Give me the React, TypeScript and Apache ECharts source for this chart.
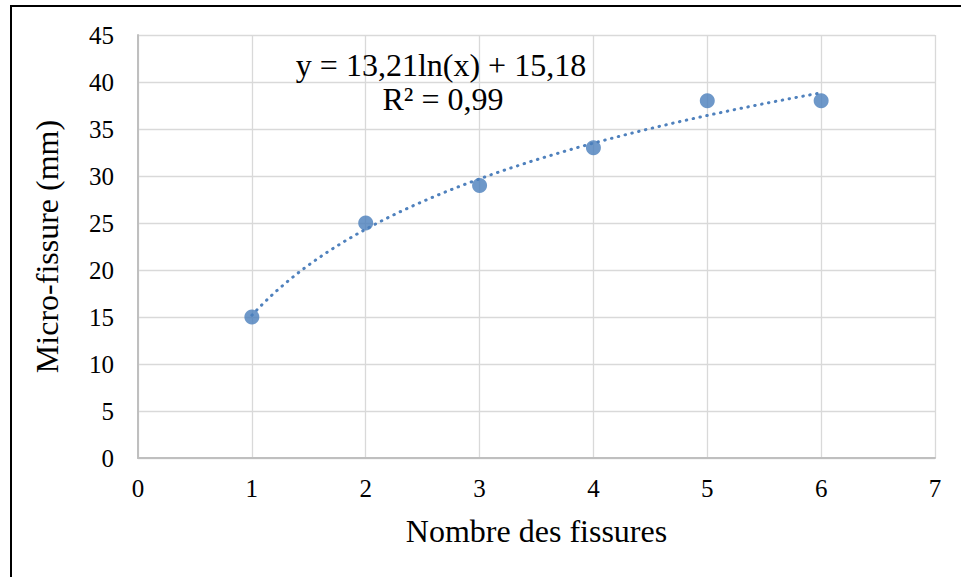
import React, { useEffect, useRef } from "react";
import * as echarts from "echarts";

const xValues = [1, 2, 3, 4, 5, 6];
const yValues = [15, 25, 29, 33, 38, 38];
const xTickMax = 7;
const yTickMax = 45;
const xTitle = "Nombre des fissures";
const yTitle = "Micro-fissure (mm)";

// log regression y = a ln(x) + b from data
function logFit(xs: number[], ys: number[]) {
  const ls = xs.map((v) => Math.log(v));
  const n = xs.length;
  const ml = ls.reduce((s, v) => s + v, 0) / n;
  const my = ys.reduce((s, v) => s + v, 0) / n;
  let sxy = 0, sxx = 0, syy = 0;
  for (let i = 0; i < n; i++) {
    sxy += (ls[i] - ml) * (ys[i] - my);
    sxx += (ls[i] - ml) ** 2;
    syy += (ys[i] - my) ** 2;
  }
  const a = sxy / sxx;
  const b = my - a * ml;
  const r2 = (sxy * sxy) / (sxx * syy);
  return { a, b, r2 };
}

const fmt = (v: number) => v.toFixed(2).replace(".", ",");

export default function App() {
  const ref = useRef<HTMLDivElement>(null);
  useEffect(() => {
    document.body.style.margin = "0";
    const chart = echarts.init(ref.current!, null, { renderer: "svg" });
    const { a, b, r2 } = logFit(xValues, yValues);
    const xMin = Math.min(...xValues);
    const xMax = Math.max(...xValues);
    const trend: number[][] = [];
    const steps = 100;
    for (let i = 0; i <= steps; i++) {
      const x = xMin + ((xMax - xMin) * i) / steps;
      trend.push([x, a * Math.log(x) + b]);
    }
    const font = "Liberation Serif";
    chart.setOption({
      animation: false,
      backgroundColor: "#ffffff",
      textStyle: { fontFamily: font },
      grid: { left: 138, top: 35, right: 26, bottom: 119, containLabel: false },
      xAxis: {
        type: "value",
        min: 0,
        max: xTickMax,
        interval: 1,
        name: xTitle,
        nameLocation: "middle",
        nameGap: 57,
        nameTextStyle: { fontFamily: font, fontSize: 32, color: "#000" },
        axisLine: { show: true, lineStyle: { color: "#bfbfbf", width: 2 } },
        axisTick: { show: false },
        axisLabel: { fontFamily: font, fontSize: 25, color: "#000", margin: 18 },
        splitLine: { show: true, lineStyle: { color: "#d9d9d9", width: 1.3 } },
      },
      yAxis: {
        type: "value",
        min: 0,
        max: yTickMax,
        interval: 5,
        name: yTitle,
        nameLocation: "middle",
        nameGap: 75,
        nameTextStyle: { fontFamily: font, fontSize: 32, color: "#000" },
        axisLine: { show: true, lineStyle: { color: "#bfbfbf", width: 2 } },
        axisTick: { show: false },
        axisLabel: { fontFamily: font, fontSize: 25, color: "#000", margin: 24 },
        splitLine: { show: true, lineStyle: { color: "#d9d9d9", width: 1.3 } },
      },
      series: [
        {
          type: "line",
          data: trend,
          showSymbol: false,
          symbol: "none",
          lineStyle: { color: "#4f81bd", width: 3, type: [0.5, 6.5], cap: "round" },
          z: 2,
        },
        {
          type: "scatter",
          data: xValues.map((x, i) => [x, yValues[i]]),
          symbol: "circle",
          symbolSize: 15,
          itemStyle: { color: "#4a7ebb" },
          z: 3,
        },
      ],
      graphic: [
        {
          type: "rect",
          shape: { x: 11, y: 6, width: 1200, height: 1200 },
          style: { fill: "none", stroke: "#000", lineWidth: 2 },
          z: 10,
        },
        {
          type: "text",
          x: 441,
          y: 65,
          style: {
            text: `y = ${fmt(a)}ln(x) + ${fmt(b)}`,
            fontFamily: font,
            fontSize: 32,
            fill: "#000",
            align: "center",
            verticalAlign: "middle",
          },
          z: 10,
        },
        {
          type: "text",
          x: 443,
          y: 99,
          style: {
            text: `R² = ${fmt(r2)}`,
            fontFamily: font,
            fontSize: 32,
            fill: "#000",
            align: "center",
            verticalAlign: "middle",
          },
          z: 10,
        },
      ],
    });
    return () => chart.dispose();
  }, []);
  return <div ref={ref} style={{ width: 961, height: 577, position: "absolute", left: 0, top: 0 }} />;
}
